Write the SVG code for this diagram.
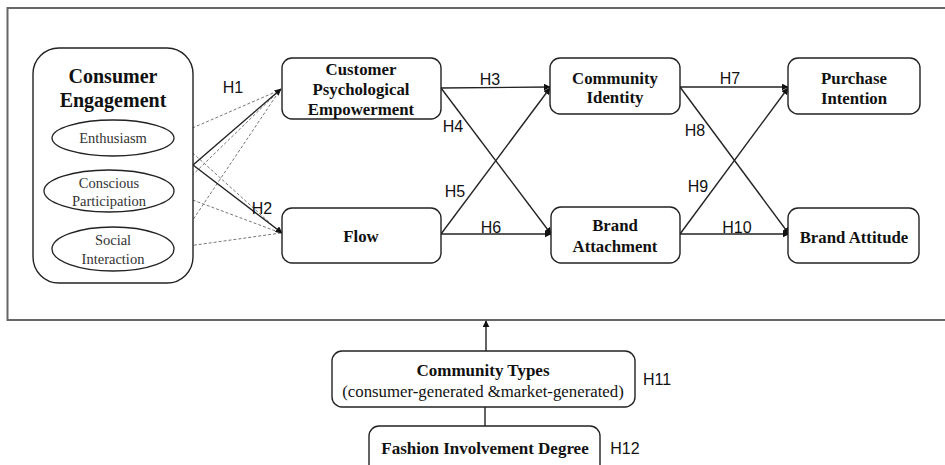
<svg xmlns="http://www.w3.org/2000/svg" width="945" height="465" viewBox="0 0 945 465">
<defs>
<style>
.box{fill:#fff;stroke:#222;stroke-width:1.4}
.ell{fill:#fff;stroke:#222;stroke-width:1.3}
.t{font-family:"Liberation Serif","Times New Roman",serif;font-weight:bold;font-size:16.8px;fill:#111;text-anchor:middle}
.te{font-family:"Liberation Serif","Times New Roman",serif;font-size:14.5px;fill:#333;text-anchor:middle}
.h{font-family:"Liberation Sans",Arial,sans-serif;font-size:16px;fill:#111;text-anchor:middle}
.ln{stroke:#222;stroke-width:1.4;fill:none}
.ds{stroke:#777;stroke-width:1;stroke-dasharray:3,2;fill:none}
</style>
<marker id="ar" viewBox="0 0 10 10" refX="9" refY="5" markerWidth="7" markerHeight="7" markerUnits="userSpaceOnUse" orient="auto">
<path d="M0,0 L10,5 L0,10 z" fill="#111"/>
</marker>
</defs>
<rect width="945" height="465" fill="#fff"/>
<rect id="frame" x="7.5" y="8" width="950" height="312" fill="none" stroke="#666" stroke-width="2"/>

<g id="connectors">
<line class="ds" x1="174" y1="136" x2="280" y2="90"/>
<line class="ds" x1="174" y1="136" x2="281" y2="233"/>
<line class="ds" x1="174" y1="193" x2="280" y2="90"/>
<line class="ds" x1="174" y1="193" x2="281" y2="233"/>
<line class="ds" x1="174" y1="248" x2="280" y2="90"/>
<line class="ds" x1="174" y1="248" x2="281" y2="233"/>
<line class="ln" x1="193" y1="165" x2="281" y2="89" marker-end="url(#ar)"/>
<line class="ln" x1="193" y1="165" x2="282" y2="233" marker-end="url(#ar)"/>
<line class="ln" x1="441" y1="88" x2="550" y2="87" marker-end="url(#ar)"/>
<line class="ln" x1="441" y1="88" x2="551" y2="234" marker-end="url(#ar)"/>
<line class="ln" x1="441" y1="234" x2="550" y2="88" marker-end="url(#ar)"/>
<line class="ln" x1="441" y1="234" x2="551" y2="234" marker-end="url(#ar)"/>
<line class="ln" x1="680" y1="87" x2="788" y2="87" marker-end="url(#ar)"/>
<line class="ln" x1="680" y1="87" x2="789" y2="234" marker-end="url(#ar)"/>
<line class="ln" x1="680" y1="234" x2="788" y2="88" marker-end="url(#ar)"/>
<line class="ln" x1="680" y1="234" x2="789" y2="234" marker-end="url(#ar)"/>
<line class="ln" x1="486" y1="351" x2="486" y2="321" marker-end="url(#ar)"/>
<line class="ln" x1="485" y1="407" x2="485" y2="426"/>
<text class="h" x="233" y="93">H1</text>
<text class="h" x="262" y="214">H2</text>
<text class="h" x="490" y="85">H3</text>
<text class="h" x="453" y="132">H4</text>
<text class="h" x="455" y="197">H5</text>
<text class="h" x="491" y="233">H6</text>
<text class="h" x="730" y="84">H7</text>
<text class="h" x="695" y="136">H8</text>
<text class="h" x="698" y="192">H9</text>
<text class="h" x="737" y="233">H10</text>
<text class="h" x="657" y="385">H11</text>
<text class="h" x="625" y="454">H12</text>
</g>

<g id="consumer-engagement">
<rect class="box" x="33" y="48" width="160" height="235" rx="26"/>
<text class="t" x="113" y="83" style="font-size:20px">Consumer</text>
<text class="t" x="113" y="107" style="font-size:20px">Engagement</text>
</g>
<g id="enthusiasm">
<ellipse class="ell" cx="113" cy="138" rx="61" ry="18"/>
<text class="te" x="113" y="143">Enthusiasm</text>
</g>
<g id="conscious-participation">
<ellipse class="ell" cx="109" cy="191" rx="65" ry="21"/>
<text class="te" x="109" y="188">Conscious</text>
<text class="te" x="109" y="206">Participation</text>
</g>
<g id="social-interaction">
<ellipse class="ell" cx="113" cy="249" rx="61" ry="22"/>
<text class="te" x="113" y="245">Social</text>
<text class="te" x="113" y="264">Interaction</text>
</g>

<g id="cpe">
<rect class="box" x="282" y="58" width="159" height="61" rx="10"/>
<text class="t" x="361" y="75">Customer</text>
<text class="t" x="361" y="95">Psychological</text>
<text class="t" x="361" y="115">Empowerment</text>
</g>
<g id="flow">
<rect class="box" x="282" y="208" width="159" height="55" rx="10"/>
<text class="t" x="361" y="242">Flow</text>
</g>
<g id="community-identity">
<rect class="box" x="550" y="58" width="130" height="56" rx="10"/>
<text class="t" x="615" y="84">Community</text>
<text class="t" x="615" y="103">Identity</text>
</g>
<g id="brand-attachment">
<rect class="box" x="551" y="207" width="129" height="56" rx="10"/>
<text class="t" x="615" y="231">Brand</text>
<text class="t" x="615" y="252">Attachment</text>
</g>
<g id="purchase-intention">
<rect class="box" x="788" y="58" width="132" height="56" rx="10"/>
<text class="t" x="854" y="84">Purchase</text>
<text class="t" x="854" y="104">Intention</text>
</g>
<g id="brand-attitude">
<rect class="box" x="788" y="208" width="131" height="55" rx="10"/>
<text class="t" x="854" y="243">Brand Attitude</text>
</g>
<g id="community-types">
<rect class="box" x="332" y="351" width="303" height="56" rx="10"/>
<text class="t" x="483" y="376" style="font-size:17px">Community Types</text>
<text class="te" x="483" y="397" style="font-size:16.8px;fill:#111">(consumer-generated &amp;market-generated)</text>
</g>
<g id="fashion-involvement">
<rect class="box" x="369" y="426" width="231" height="50" rx="10"/>
<text class="t" x="485" y="454" style="font-size:17px">Fashion Involvement Degree</text>
</g>
</svg>
